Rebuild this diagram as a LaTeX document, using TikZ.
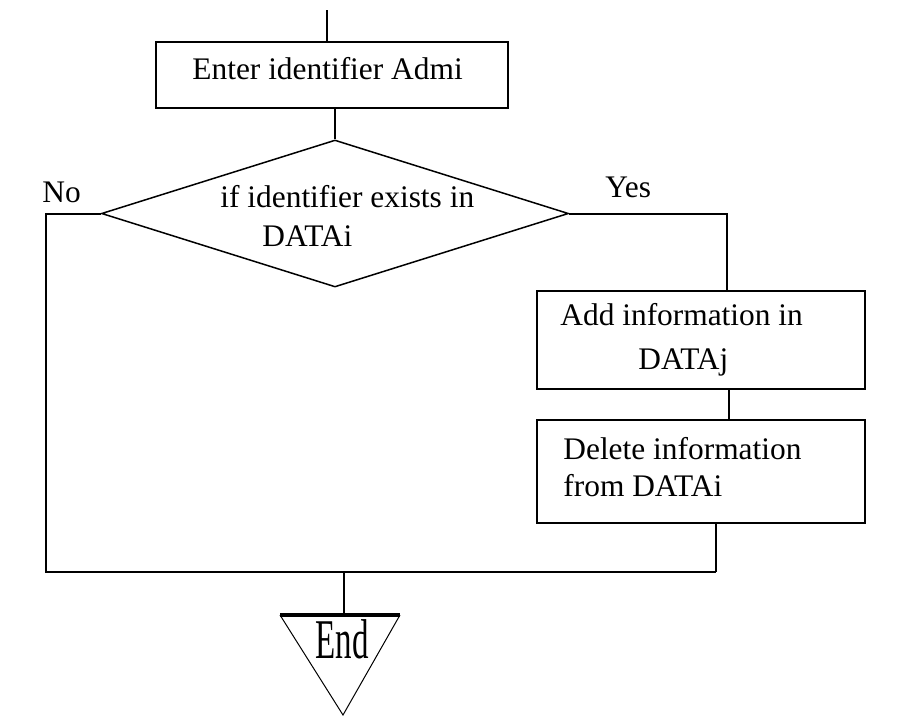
\documentclass[tikz,border=0pt]{standalone}
\usepackage{fontspec}
\setmainfont{Liberation Serif}
\usetikzlibrary{shapes.geometric,calc}
\begin{document}
\begin{tikzpicture}[x=0.5pt,y=-0.5pt,
  every node/.style={font=\fontsize{15.7}{18}\selectfont},
  box/.style={draw,line width=1pt,inner sep=0pt,rectangle},
  dia/.style={draw,line width=0.75pt,diamond,inner sep=0pt,aspect=3.18},
  txt/.style={inner sep=0pt,anchor=base west},
  ln/.style={line width=1pt}]
\useasboundingbox (0,0) rectangle (921,724);
% boxes
\node[box,minimum width=176pt,minimum height=33pt] (b1) at (332,75) {};
\node[dia,minimum width=233.5pt,minimum height=73.5pt] (dec) at (335,213.5) {};
\node[box,minimum width=164pt,minimum height=49pt] (b2) at (701,340) {};
\node[box,minimum width=164pt,minimum height=51.5pt] (b3) at (701,471.5) {};
% texts
\node[txt] (t1) at (192,79) {Enter identifier Admi};
\node[txt] (td1) at (220,207) {if identifier exists in};
\node[txt] (td2) at (262,246) {DATAi};
\node[txt] (no) at (42,202) {No};
\node[txt] (yes) at (605,197) {Yes};
\node[txt] (t2a) at (560,325) {Add information in};
\node[txt] (t2b) at (638,369) {DATAj};
\node[txt] (t3a) at (563,459) {Delete information};
\node[txt] (t3b) at (563,496) {from DATAi};
% End triangle
\coordinate (tl) at (280,615);
\coordinate (tr) at (400,615);
\coordinate (tb) at (343,715);
\draw[line width=0.5pt] (tl) -- (tb) -- (tr);
\draw[line width=2pt] (tl) -- (tr);
\node[inner sep=0pt,anchor=base,font=\fontsize{16.5}{18}\selectfont] (endt) at (342,658) {\scalebox{1}[1.7]{End}};
% connectors
\coordinate (start) at (327,10);
\coordinate (bl) at (46,572);
\coordinate (br) at (716,572);
\coordinate (jn) at (344,572);
\coordinate (jt) at (344,613);
\draw[ln] (start) -- (start |- b1.north);
\draw[ln] (dec.north) -- (dec.north |- b1.south);
\draw[ln] (dec.west) -| (bl) -- (br);
\draw[ln] (dec.east) -| ([xshift=13pt]b2.north);
\draw[ln] ([xshift=14pt]b2.south) -- ([xshift=14pt]b3.north);
\draw[ln] (br |- b3.south) -- (br);
\draw[ln] (jn) -- (jt);
\end{tikzpicture}
\end{document}
